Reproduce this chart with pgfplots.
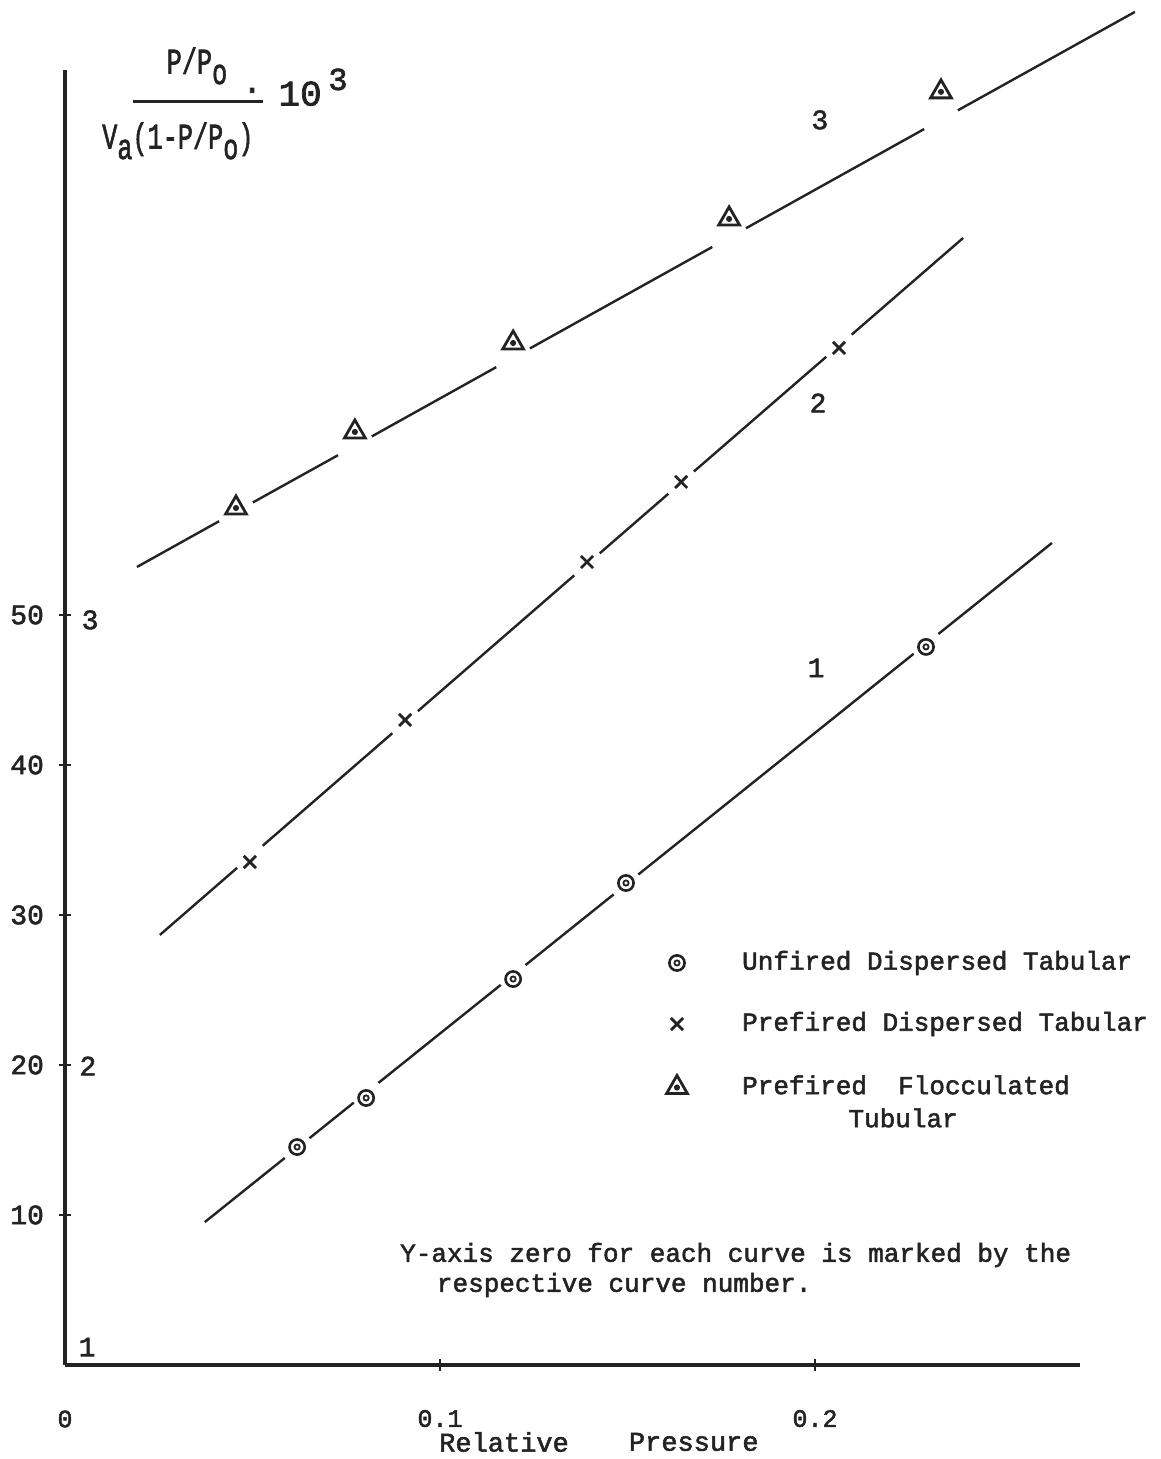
\documentclass[border=0pt]{standalone}
\usepackage{fontspec}
\setmainfont{Liberation Mono}[FakeBold=2]
\usepackage{graphicx}
\usepackage{pgfplots}
\pgfplotsset{compat=1.18}
\definecolor{ink}{RGB}{35,35,35}

\pgfplotstableread{
x y
0.0619 14.53
0.0803 17.80
0.1195 25.73
0.1496 32.13
0.2296 47.87
}\curveone
\pgfplotstableread{
x y
0.0493 33.53
0.0907 43.00
0.1392 53.53
0.1643 58.87
0.2064 67.80
}\curvetwo
\pgfplotstableread{
x y
0.0456 57.13
0.0773 62.20
0.1195 68.13
0.1771 76.40
0.2336 84.87
}\curvethree

\begin{document}
\begin{tikzpicture}
\begin{axis}[
  scale only axis,
  width=507.5pt, height=647.5pt,
  xmin=0, xmax=0.27067, ymin=0, ymax=86.33,
  axis lines=left,
  axis line style={-, line width=2pt, color=ink},
  clip=false,
  xtick={0.1,0.2}, xticklabels={{0.1},{0.2}},
  ytick={10,20,30,40,50}, yticklabels={10,20,30,40,50},
  tick align=center,
  major tick length=6pt,
  every tick/.style={ink, line width=1pt},
  xticklabel style={font=\fontsize{12.5}{14}\selectfont, text=ink, yshift=-16pt},
  yticklabel style={font=\fontsize{14}{16}\selectfont, text=ink, xshift=-4pt},
  seg/.style={ink, line width=1.2pt, no marks},
]
% fitted line 1, broken at the points
\addplot[seg] coordinates {(0.0373,9.53) (0.0586,13.80)};
\addplot[seg] coordinates {(0.0652,15.12) (0.0770,17.49)};
\addplot[seg] coordinates {(0.0836,18.81) (0.1162,25.34)};
\addplot[seg] coordinates {(0.1228,26.66) (0.1463,31.37)};
\addplot[seg] coordinates {(0.1529,32.70) (0.2263,47.41)};
\addplot[seg] coordinates {(0.2329,48.73) (0.2632,54.80)};
% fitted line 2
\addplot[seg] coordinates {(0.0253,28.67) (0.0459,33.14)};
\addplot[seg] coordinates {(0.0527,34.61) (0.0873,42.12)};
\addplot[seg] coordinates {(0.0941,43.59) (0.1358,52.64)};
\addplot[seg] coordinates {(0.1426,54.11) (0.1609,58.08)};
\addplot[seg] coordinates {(0.1677,59.56) (0.2030,67.21)};
\addplot[seg] coordinates {(0.2098,68.69) (0.2395,75.13)};
% fitted line 3
\addplot[seg] coordinates {(0.0192,53.20) (0.0411,56.25)};
\addplot[seg] coordinates {(0.0501,57.50) (0.0728,60.65)};
\addplot[seg] coordinates {(0.0818,61.90) (0.1150,66.52)};
\addplot[seg] coordinates {(0.1240,67.77) (0.1726,74.53)};
\addplot[seg] coordinates {(0.1816,75.78) (0.2291,82.39)};
\addplot[seg] coordinates {(0.2381,83.64) (0.2853,90.20)};
% points
\addplot[ink, only marks, mark=o, mark size=3.8pt, mark options={line width=1.3pt}] table {\curveone};
\addplot[ink, only marks, mark=o, mark size=1.3pt, mark options={line width=0.9pt}] table {\curveone};
\addplot[ink, only marks, mark=x, mark size=4.3pt, mark options={line width=1.4pt}] table {\curvetwo};
\addplot[ink, only marks, mark=triangle, mark size=6pt, mark options={line width=1.4pt}] table {\curvethree};
\addplot[ink, only marks, mark=*, mark size=1.3pt] table {\curvethree};
% legend markers
\addplot[ink, only marks, mark=o, mark size=3.8pt, mark options={line width=1.3pt}] coordinates {(0.1632,26.8)};
\addplot[ink, only marks, mark=o, mark size=1.3pt, mark options={line width=0.9pt}] coordinates {(0.1632,26.8)};
\addplot[ink, only marks, mark=x, mark size=4.3pt, mark options={line width=1.4pt}] coordinates {(0.1632,22.73)};
\addplot[ink, only marks, mark=triangle, mark size=6pt, mark options={line width=1.4pt}] coordinates {(0.1632,18.5)};
\addplot[ink, only marks, mark=*, mark size=1.3pt] coordinates {(0.1632,18.5)};

\begin{scope}[every node/.style={text=ink, font=\fontsize{13}{15}\selectfont}]
\node[anchor=west] at (axis cs:0.1787,26.8) {Unfired Dispersed Tabular};
\node[anchor=west] at (axis cs:0.1787,22.73) {Prefired Dispersed Tabular};
\node[anchor=west] at (axis cs:0.1787,18.67) {Prefired\ \ Flocculated};
\node at (axis cs:0.2235,16.47) {Tubular};
\node[anchor=west] at (axis cs:0.0875,7.33) {Y-axis zero for each curve is marked by the};
\node[anchor=west] at (axis cs:0.0973,5.33) {respective curve number.};
\node[anchor=west, font=\fontsize{13.5}{15}\selectfont] at (axis cs:0.0979,-5.13) {Relative};
\node[anchor=west, font=\fontsize{13.5}{15}\selectfont] at (axis cs:0.1485,-5.13) {Pressure};
\node[font=\fontsize{12.5}{14}\selectfont] at (axis cs:0,-3.6) {0};
% curve numbers
\node[font=\fontsize{14}{16}\selectfont] at (axis cs:0.2013,83.0) {3};
\node[font=\fontsize{14}{16}\selectfont] at (axis cs:0.2008,64.13) {2};
\node[font=\fontsize{14}{16}\selectfont] at (axis cs:0.2003,46.47) {1};
% zero marks of the curves
\node[font=\fontsize{14}{16}\selectfont] at (axis cs:0.0067,49.67) {3};
\node[font=\fontsize{14}{16}\selectfont] at (axis cs:0.0061,19.93) {2};
\node[font=\fontsize{14}{16}\selectfont] at (axis cs:0.0059,1.2) {1};
% y-axis quantity
\node[font=\fontsize{18}{20}\selectfont] at (axis cs:0.0352,86.6) {\scalebox{0.7}[1]{P/P\raisebox{-0.55ex}{o}}};
\node[font=\fontsize{18}{20}\selectfont] at (axis cs:0.0301,81.6) {\scalebox{0.7}[1]{V\raisebox{-0.55ex}{a}(1-P/P\raisebox{-0.55ex}{o})}};
\node[font=\fontsize{16}{16}\selectfont] at (axis cs:0.0499,84.75) {·};
\node[font=\fontsize{18}{20}\selectfont] at (axis cs:0.0627,84.75) {10};
\node[font=\fontsize{16}{18}\selectfont] at (axis cs:0.0728,85.7) {3};
\end{scope}
\draw[ink, line width=1.5pt] (axis cs:0.0181,84.2) -- (axis cs:0.0528,84.2);
\end{axis}
\pgfresetboundingbox
\useasboundingbox (-32.5pt,-47pt) rectangle (547.5pt,682.5pt);
\end{tikzpicture}
\end{document}
